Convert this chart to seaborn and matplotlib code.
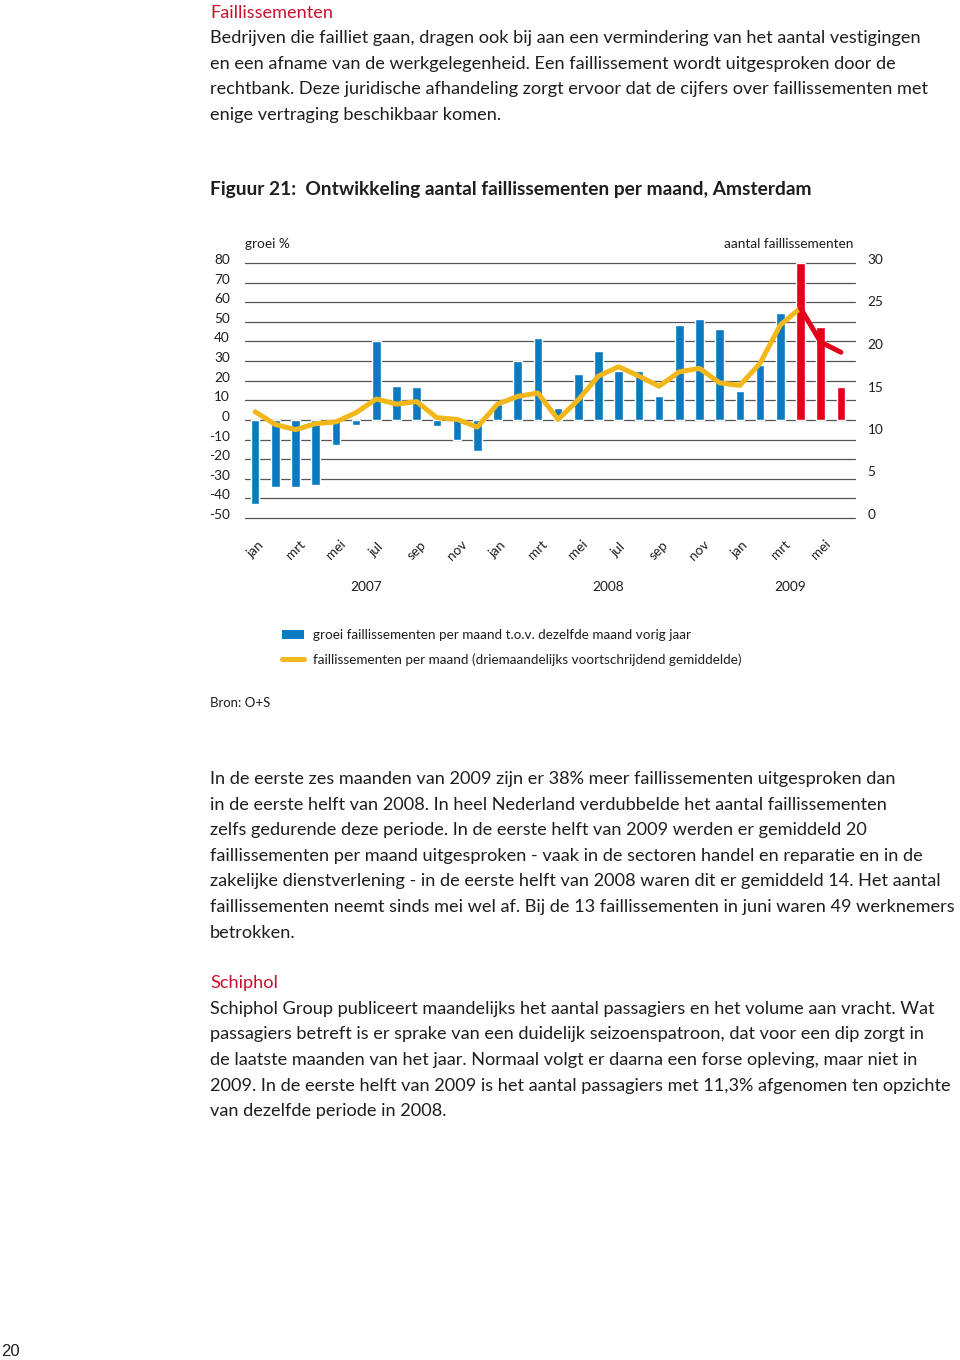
import numpy as np
import pandas as pd
import matplotlib
matplotlib.use("Agg")
import matplotlib.pyplot as plt
import matplotlib.transforms as mtransforms
from matplotlib.patches import Patch
from matplotlib.lines import Line2D
import seaborn as sns

# ---------------- data ----------------
months = ["jan", "feb", "mrt", "apr", "mei", "jun", "jul", "aug", "sep", "okt", "nov", "dec",
          "jan", "feb", "mrt", "apr", "mei", "jun", "jul", "aug", "sep", "okt", "nov", "dec",
          "jan", "feb", "mrt", "apr", "mei", "jun"]
years = ["2007", "2008", "2009"]
growth = [-43, -34, -34, -33, -13, -2.5, 40, 17.5, 17, -3, -10, -15.6,
          8, 30, 42, 6, 23.3, 35, 25, 25, 12, 48.5, 51.5, 46.5,
          14.8, 28, 54.5, 80, 47.2, 16.7]
avg3 = [12.5, 11.0, 10.4, 11.1, 11.3, 12.4, 14.0, 13.4, 13.7, 11.8, 11.6, 10.7,
        13.4, 14.3, 14.7, 11.6, 13.9, 16.7, 17.8, 16.7, 15.5, 17.2, 17.6, 15.9,
        15.6, 18.2, 22.7, 24.7, 20.7, 19.5]
highlight_from = 27  # last three months shown in red
left_ticks = list(range(-50, 81, 10))
right_ticks = list(range(0, 31, 5))

# ---------------- style ----------------
sns.set_theme(style="white")
plt.rcParams["font.family"] = ["Lato", "DejaVu Sans"]
TXT = "#1e1e1e"
RED_H = "#c8102e"
BLUE = "#0b7bc1"
YELLOW = "#f2b71a"
RED = "#e2001a"
GRID = "#555555"

W, H = 960, 1360
fig = plt.figure(figsize=(W / 100, H / 100), dpi=100)


def fy(py):
    return 1 - py / H


def fx(px):
    return px / W


body_fs = 13.1

fig.text(fx(210), fy(13), "Faillissementen", color=RED_H, fontsize=body_fs, va="center")
para1 = ["Bedrijven die failliet gaan, dragen ook bij aan een vermindering van het aantal vestigingen",
         "en een afname van de werkgelegenheid. Een faillissement wordt uitgesproken door de",
         "rechtbank. Deze juridische afhandeling zorgt ervoor dat de cijfers over faillissementen met",
         "enige vertraging beschikbaar komen."]
for i, line in enumerate(para1):
    fig.text(fx(210), fy(38 + 25.7 * i), line, color=TXT, fontsize=body_fs, va="center")

fig.text(fx(210), fy(190), "Figuur 21:  Ontwikkeling aantal faillissementen per maand, Amsterdam",
         color=TXT, fontsize=13.8, fontweight="bold", va="center")

para2 = ["In de eerste zes maanden van 2009 zijn er 38% meer faillissementen uitgesproken dan",
         "in de eerste helft van 2008. In heel Nederland verdubbelde het aantal faillissementen",
         "zelfs gedurende deze periode. In de eerste helft van 2009 werden er gemiddeld 20",
         "faillissementen per maand uitgesproken - vaak in de sectoren handel en reparatie en in de",
         "zakelijke dienstverlening - in de eerste helft van 2008 waren dit er gemiddeld 14. Het aantal",
         "faillissementen neemt sinds mei wel af. Bij de 13 faillissementen in juni waren 49 werknemers",
         "betrokken."]
for i, line in enumerate(para2):
    fig.text(fx(210), fy(779 + 25.6 * i), line, color=TXT, fontsize=body_fs, va="center")

fig.text(fx(210), fy(983), "Schiphol", color=RED_H, fontsize=body_fs, va="center")
para3 = ["Schiphol Group publiceert maandelijks het aantal passagiers en het volume aan vracht. Wat",
         "passagiers betreft is er sprake van een duidelijk seizoenspatroon, dat voor een dip zorgt in",
         "de laatste maanden van het jaar. Normaal volgt er daarna een forse opleving, maar niet in",
         "2009. In de eerste helft van 2009 is het aantal passagiers met 11,3% afgenomen ten opzichte",
         "van dezelfde periode in 2008."]
for i, line in enumerate(para3):
    fig.text(fx(210), fy(1009 + 25.5 * i), line, color=TXT, fontsize=body_fs, va="center")

fig.text(fx(210), fy(703), "Bron: O+S", color=TXT, fontsize=9.5, va="center")
fig.text(fx(1), fy(1352), "20", color=TXT, fontsize=12, va="center", family=["Liberation Sans", "DejaVu Sans"])

# ---------------- chart ----------------
ax_l, ax_r, ax_t, ax_b = 245, 855, 263, 518
ax = fig.add_axes([fx(ax_l), fy(ax_b), (ax_r - ax_l) / W, (ax_b - ax_t) / H])

df = pd.DataFrame({"idx": np.arange(len(growth)), "growth": growth, "avg": avg3})
bar_colors = {i: (RED if i >= highlight_from else BLUE) for i in df["idx"]}

for v in left_ticks:
    ax.axhline(v, color=GRID, lw=0.9, zorder=0, clip_on=False)

sns.barplot(data=df, x="idx", y="growth", hue="idx", palette=bar_colors, legend=False,
            width=0.42, saturation=1, ax=ax, zorder=2)
ax.set_ylim(-50, 80)
ax.set_xlim(-0.5, 29.7)
ax.set_yticks(left_ticks)
ax.set_yticklabels([str(v) for v in left_ticks], fontsize=9.8, color=TXT)
ax.set_xticks(range(0, len(months), 2))
ax.set_xticklabels(months[::2], rotation=45, ha="center", va="center", fontsize=9.8, color=TXT)
ax.tick_params(axis="x", length=0, pad=23)
ax.tick_params(axis="y", length=0, pad=11)
ax.set_xlabel("")
ax.set_ylabel("")
for s in ax.spines.values():
    s.set_visible(False)

off = mtransforms.ScaledTranslation(0, 4 / 100, fig.dpi_scale_trans)
for lab in ax.get_yticklabels():
    lab.set_transform(lab.get_transform() + off)
    lab.set_ha("right")

ax2 = ax.twinx()
seg1 = df[df["idx"] <= highlight_from]
seg2 = df[df["idx"] >= highlight_from]
sns.lineplot(data=seg1, x="idx", y="avg", color=YELLOW, lw=3.6, ax=ax2, zorder=3)
sns.lineplot(data=seg2, x="idx", y="avg", color=RED, lw=3.6, ax=ax2, zorder=3)
ax2.set_ylim(0, 30)
ax2.set_yticks(right_ticks)
ax2.set_yticklabels([str(v) for v in right_ticks], fontsize=9.8, color=TXT)
ax2.tick_params(axis="y", length=0, pad=9)
ax2.set_ylabel("")
ax2.set_xlabel("")
ax2.grid(False)
for s in ax2.spines.values():
    s.set_visible(False)
for lab in ax2.get_yticklabels():
    lab.set_transform(lab.get_transform() + off)
ax.set_xlim(-0.5, 29.7)

fig.text(fx(245), fy(244), "groei %", color=TXT, fontsize=9.8, va="center")
fig.text(fx(853), fy(244), "aantal faillissementen", color=TXT, fontsize=9.8, va="center", ha="right")

# year labels under month ticks
year_centers = [5.5, 17.5, 26.5]
ydown = mtransforms.ScaledTranslation(0, -69 / 100, fig.dpi_scale_trans)
for yc, yl in zip(year_centers, years):
    ax.text(yc, 0, yl, transform=ax.get_xaxis_transform() + ydown, color=TXT, fontsize=9.8,
            ha="center", va="center")

handles = [Patch(facecolor=BLUE, edgecolor="none"),
           Line2D([0], [0], color=YELLOW, lw=3.6)]
labels = ["groei faillissementen per maand t.o.v. dezelfde maand vorig jaar",
          "faillissementen per maand (driemaandelijks voortschrijdend gemiddelde)"]
fig.legend(handles, labels, loc="upper left", bbox_to_anchor=(fx(270), fy(617)),
           frameon=False, fontsize=9.75, handlelength=1.6, handleheight=0.7,
           handletextpad=0.7, labelspacing=0.9, labelcolor=TXT)

fig.savefig("out.png", dpi=100, facecolor="white")
